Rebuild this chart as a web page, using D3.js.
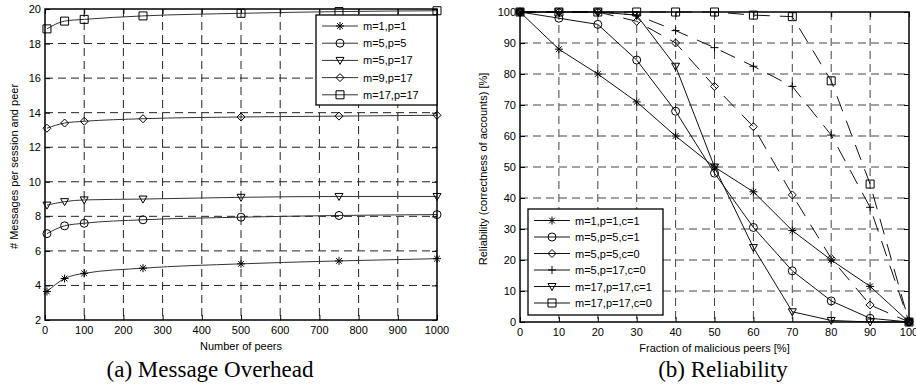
<!DOCTYPE html>
<html>
<head>
<meta charset="utf-8">
<script src="https://cdn.jsdelivr.net/npm/d3@7"></script>
<style>
  body { margin: 0; background: #fff; }
  text { font-family: "Liberation Sans", Arial, sans-serif; }
</style>
</head>
<body>
<script>
// (a) message overhead
var peers = [5, 50, 100, 250, 500, 750, 1000];
var overheadNames = ["m=1,p=1", "m=5,p=5", "m=5,p=17", "m=9,p=17", "m=17,p=17"];
var overheadMarks = ["star", "circle", "tridown", "diamond", "square"];
var overhead = [
  [3.65, 4.4, 4.7, 5.0, 5.25, 5.42, 5.55],
  [7.0, 7.45, 7.6, 7.8, 7.95, 8.05, 8.1],
  [8.65, 8.85, 8.95, 9.0, 9.1, 9.15, 9.15],
  [13.1, 13.4, 13.5, 13.65, 13.75, 13.8, 13.85],
  [18.85, 19.3, 19.4, 19.6, 19.75, 19.85, 19.9]
];
var peerTicks = d3.range(0, 1001, 100);
var msgTicks = d3.range(2, 21, 2);

// (b) reliability
var fraction = [0, 10, 20, 30, 40, 50, 60, 70, 80, 90, 100];
var relNames = ["m=1,p=1,c=1", "m=5,p=5,c=1", "m=5,p=5,c=0", "m=5,p=17,c=0", "m=17,p=17,c=1", "m=17,p=17,c=0"];
var relMarks = ["star", "circle", "diamond", "plus", "tridown", "square"];
var relDashed = [false, false, true, true, false, true];
var reliability = [
  [100, 88, 80, 71, 60, 50, 42, 29.5, 20, 11.5, 0],
  [100, 98, 96, 84.5, 68, 48, 30.5, 16.5, 6.8, 1.2, 0],
  [100, 100, 100, 97, 90, 76, 63, 41, 20.5, 5.5, 0],
  [100, 100, 100, 99, 94, 88.5, 82.5, 76, 60.3, 37, 0],
  [100, 100, 100, 99, 82.5, 50, 24, 3.3, 0.5, 0, 0],
  [100, 100, 100, 100, 100, 100, 99, 98.5, 77.8, 44.5, 0]
];
var fracTicks = d3.range(0, 101, 10);
var relTicks = d3.range(0, 101, 10);

var svg = d3.select("body").append("svg")
    .attr("width", 916)
    .attr("height", 388);

function markPath(type, s) {
  var h = s / 2;
  if (type === "circle") return d3.arc()({innerRadius: 0, outerRadius: h, startAngle: 0, endAngle: 2 * Math.PI});
  if (type === "square") return `M${-h},${-h}H${h}V${h}H${-h}Z`;
  if (type === "diamond") return `M0,${-h}L${h},0L0,${h}L${-h},0Z`;
  if (type === "tridown") return `M${-h},${-h * 0.75}H${h}L0,${h}Z`;
  if (type === "plus") return `M${-h},0H${h}M0,${-h}V${h}`;
  if (type === "star") {
    var d = h * 0.72;
    return `M${-h},0H${h}M0,${-h}V${h}M${-d},${-d}L${d},${d}M${-d},${d}L${d},${-d}`;
  }
}

function panel(opt) {
  var x = d3.scaleLinear().domain(opt.xDomain).range([opt.left, opt.right]);
  var y = d3.scaleLinear().domain(opt.yDomain).range([opt.bottom, opt.top]);
  var g = svg.append("g");

  // grid
  g.selectAll(".gx").data(opt.xTicks.slice(1, -1)).enter().append("line")
      .attr("x1", d => x(d)).attr("x2", d => x(d))
      .attr("y1", opt.top).attr("y2", opt.bottom)
      .attr("stroke", opt.gridColor).attr("stroke-width", 1)
      .attr("stroke-dasharray", "8,5");
  g.selectAll(".gy").data(opt.yTicks.slice(1, -1)).enter().append("line")
      .attr("y1", d => y(d)).attr("y2", d => y(d))
      .attr("x1", opt.left).attr("x2", opt.right)
      .attr("stroke", opt.gridColor).attr("stroke-width", 1)
      .attr("stroke-dasharray", "8,5");

  // inner ticks on all sides
  var tl = 5;
  g.append("g").attr("transform", `translate(0,${opt.bottom})`)
      .call(d3.axisTop(x).tickValues(opt.xTicks).tickSize(tl).tickFormat(""))
      .call(a => a.select(".domain").remove());
  g.append("g").attr("transform", `translate(0,${opt.top})`)
      .call(d3.axisBottom(x).tickValues(opt.xTicks).tickSize(tl).tickFormat(""))
      .call(a => a.select(".domain").remove());
  g.append("g").attr("transform", `translate(${opt.left},0)`)
      .call(d3.axisRight(y).tickValues(opt.yTicks).tickSize(tl).tickFormat(""))
      .call(a => a.select(".domain").remove());
  g.append("g").attr("transform", `translate(${opt.right},0)`)
      .call(d3.axisLeft(y).tickValues(opt.yTicks).tickSize(tl).tickFormat(""))
      .call(a => a.select(".domain").remove());

  // tick labels
  g.selectAll(".xl").data(opt.xTicks).enter().append("text")
      .attr("x", d => x(d)).attr("y", opt.bottom + 14)
      .attr("text-anchor", "middle").attr("font-size", 11).text(d => d);
  g.selectAll(".yl").data(opt.yTicks).enter().append("text")
      .attr("x", opt.left - 4).attr("y", d => y(d) + 4)
      .attr("text-anchor", "end").attr("font-size", 11).text(d => d);

  // series
  var line = d3.line().x(d => x(d[0])).y(d => y(d[1])).curve(opt.curve);
  opt.series.forEach(function(vals, i) {
    var pts = opt.xs.map((v, j) => [v, vals[j]]);
    g.append("path").attr("d", line(pts))
        .attr("fill", "none").attr("stroke", opt.lineColor).attr("stroke-width", 1)
        .attr("stroke-dasharray", opt.dashed && opt.dashed[i] ? "16,10" : null);
    g.selectAll(null).data(pts).enter().append("path")
        .attr("transform", d => `translate(${x(d[0])},${y(d[1])})`)
        .attr("d", markPath(opt.marks[i], 8))
        .attr("fill", "none").attr("stroke", "#000").attr("stroke-width", 1);
  });

  // frame
  g.append("rect").attr("x", opt.left).attr("y", opt.top)
      .attr("width", opt.right - opt.left).attr("height", opt.bottom - opt.top)
      .attr("fill", "none").attr("stroke", "#000").attr("stroke-width", 1.5);

  // legend
  var lg = opt.legend;
  g.append("rect").attr("x", lg.x).attr("y", lg.y).attr("width", lg.w).attr("height", lg.h)
      .attr("fill", "#fff").attr("stroke", "#000").attr("stroke-width", 1.3);
  opt.names.forEach(function(name, i) {
    var cy = lg.y + lg.first + i * lg.step;
    g.append("line").attr("x1", lg.x + 6).attr("x2", lg.x + 42)
        .attr("y1", cy).attr("y2", cy).attr("stroke", opt.lineColor).attr("stroke-width", 1);
    g.append("path").attr("transform", `translate(${lg.x + 24},${cy})`)
        .attr("d", markPath(opt.marks[i], 8))
        .attr("fill", "none").attr("stroke", "#000");
    g.append("text").attr("x", lg.x + 47).attr("y", cy + 4)
        .attr("font-size", 11).text(name);
  });

  // axis titles
  g.append("text").attr("x", (opt.left + opt.right) / 2).attr("y", opt.bottom + 30)
      .attr("text-anchor", "middle").attr("font-size", 11).text(opt.xTitle);
  g.append("text")
      .attr("transform", `translate(${opt.yTitleX},${(opt.top + opt.bottom) / 2 + 2}) rotate(-90)`)
      .attr("text-anchor", "middle").attr("font-size", 11).text(opt.yTitle);
  g.append("text").attr("x", opt.captionX).attr("y", 377)
      .attr("text-anchor", "middle").attr("font-size", 23)
      .style("font-family", "'Liberation Serif', 'Times New Roman', serif")
      .text(opt.caption);
}

panel({
  left: 45, right: 437, top: 9, bottom: 320,
  xDomain: [0, 1000], yDomain: [2, 20],
  xTicks: peerTicks, yTicks: msgTicks,
  xs: peers, series: overhead, marks: overheadMarks, names: overheadNames,
  curve: d3.curveMonotoneX, lineColor: "#333", gridColor: "#222",
  legend: {x: 316, y: 15, w: 121, h: 90, first: 11, step: 17.2},
  xTitle: "Number of peers", yTitle: "# Messages per session and peer", yTitleX: 18,
  caption: "(a) Message Overhead", captionX: 210
});

panel({
  left: 520, right: 909, top: 12, bottom: 322,
  xDomain: [0, 100], yDomain: [0, 100],
  xTicks: fracTicks, yTicks: relTicks,
  xs: fraction, series: reliability, marks: relMarks, names: relNames, dashed: relDashed,
  curve: d3.curveLinear, lineColor: "#111", gridColor: "#444",
  legend: {x: 528, y: 209, w: 135, h: 106, first: 11.5, step: 16.5},
  xTitle: "Fraction of malicious peers [%]", yTitle: "Reliability (correctness of accounts) [%]", yTitleX: 487,
  caption: "(b) Reliability", captionX: 723
});
</script>
</body>
</html>
